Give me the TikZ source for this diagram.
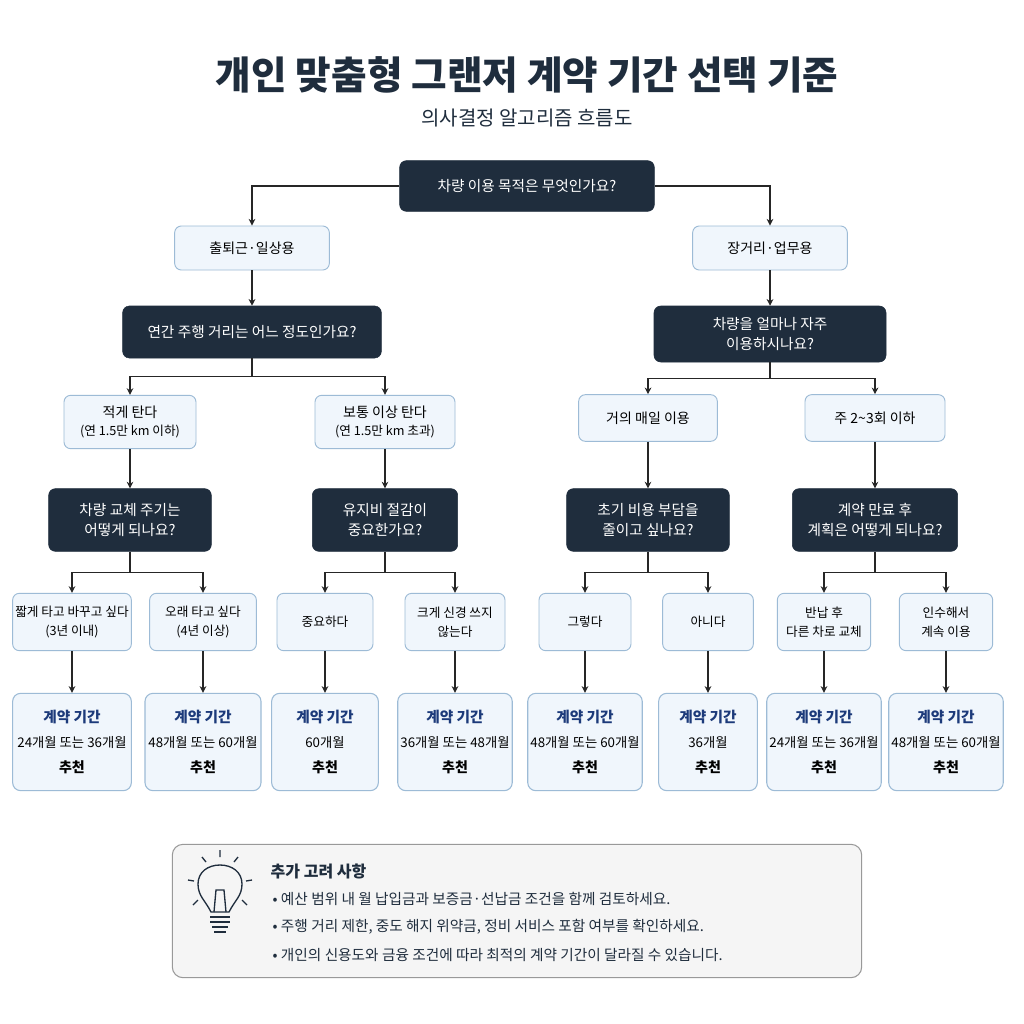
\documentclass[tikz,border=0pt]{standalone}
\usepackage{fontspec}
\setmainfont{Noto Sans CJK KR}
\usetikzlibrary{arrows.meta,calc}
\definecolor{dk}{HTML}{1F2D3D}
\definecolor{lf}{HTML}{F0F6FC}
\definecolor{lb}{HTML}{9DBBD6}
\definecolor{nv}{HTML}{1C3A7A}
\tikzset{
 q/.style={draw=dk,fill=dk,text=white,rounded corners=5pt,align=center,font=\fontsize{11}{15}\selectfont,inner sep=2pt},
 o/.style={draw=lb,fill=lf,rounded corners=5pt,align=center,font=\fontsize{10.5}{14}\selectfont,inner sep=2pt,line width=0.7pt},
 r/.style={draw=lb,fill=lf,rounded corners=6pt,align=center,font=\fontsize{9.5}{19}\selectfont,inner sep=2pt,line width=0.8pt},
 ar/.style={-{Stealth[length=5pt,width=5pt]},line width=0.8pt,draw=black!85},
 ln/.style={line width=0.8pt,draw=black!85}
}
\newcommand{\rt}[1]{{\color{nv}\fontsize{11}{19}\selectfont\bfseries #1}}
\newcommand{\vd}[2]{\draw[ar] (#1.south) -- (#1.south|-#2.north);}
\begin{document}
\begin{tikzpicture}[x=0.75pt,y=-0.75pt]
\fill[white] (0,0) rectangle (1024,1024);
\useasboundingbox (0,0) rectangle (1024,1024);
\node[font=\fontsize{29}{34}\selectfont\bfseries,text=dk] (title) at (527,75) {개인 맞춤형 그랜저 계약 기간 선택 기준};
\node[font=\fontsize{15}{18}\selectfont,text=dk] (sub) at (527,118) {의사결정 알고리즘 흐름도};
% root
\node[q,minimum width=191pt,minimum height=38pt] (root) at (527,186) {차량 이용 목적은 무엇인가요?};
\node[o,minimum width=116pt,minimum height=33pt] (a) at (252,248) {출퇴근·일상용};
\node[o,minimum width=116pt,minimum height=33pt] (b) at (770,248) {장거리·업무용};
\node[q,minimum width=194pt,minimum height=39pt] (qa) at (252,332) {연간 주행 거리는 어느 정도인가요?};
\node[q,minimum width=174pt,minimum height=42pt] (qb) at (770,334) {차량을 얼마나 자주\\이용하시나요?};
\node[o,minimum width=99pt,minimum height=40pt] (a1) at (130,422) {적게 탄다\\{\fontsize{9.5}{13}\selectfont (연 1.5만 km 이하)}};
\node[o,minimum width=105pt,minimum height=40pt] (a2) at (385,422) {보통 이상 탄다\\{\fontsize{9.5}{13}\selectfont (연 1.5만 km 초과)}};
\node[o,minimum width=104pt,minimum height=35pt] (b1) at (648,418) {거의 매일 이용};
\node[o,minimum width=105pt,minimum height=35pt] (b2) at (875,418) {주 2\textasciitilde3회 이하};
\node[q,minimum width=122pt,minimum height=47pt] (qa1) at (130,520) {차량 교체 주기는\\어떻게 되나요?};
\node[q,minimum width=109pt,minimum height=47pt] (qa2) at (385,520) {유지비 절감이\\중요한가요?};
\node[q,minimum width=122pt,minimum height=47pt] (qb1) at (648,520) {초기 비용 부담을\\줄이고 싶나요?};
\node[q,minimum width=124pt,minimum height=47pt] (qb2) at (875,520) {계약 만료 후\\계획은 어떻게 되나요?};
% level 4
\foreach \n/\x/\w/\t in {c1/72/78/{짧게 타고 바꾸고 싶다\\(3년 이내)},c2/203/80/{오래 타고 싶다\\(4년 이상)},c3/325/72/{중요하다},c4/455/75/{크게 신경 쓰지\\않는다},c5/585/69/{그렇다},c6/708/68/{아니다},c7/824/70/{반납 후\\다른 차로 교체},c8/946/70/{인수해서\\계속 이용}}
  \node[o,minimum width=\w pt,minimum height=43pt,font=\fontsize{9.5}{14}\selectfont] (\n) at (\x,622) {\t};
\foreach \n/\x/\w/\t in {d1/72/89/{24개월 또는 36개월},d2/203/87/{48개월 또는 60개월},d3/325/80/{60개월},d4/455/80/{36개월 또는 48개월},d5/585/80/{48개월 또는 60개월},d6/708/74/{36개월},d7/824/80/{24개월 또는 36개월},d8/946/83/{48개월 또는 60개월}}
  \node[r,minimum width=\w pt,minimum height=73pt] (\n) at (\x,742) {\rt{계약 기간}\\{\fontsize{10}{19}\selectfont\t}\\{\fontsize{10.5}{19}\selectfont\bfseries 추천}};
% connectors
\draw[ar] (root.west) -| (a.north);
\draw[ar] (root.east) -| (b.north);
\vd{a}{qa}
\vd{b}{qb}
\foreach \p/\l/\rr in {qa/a1/a2,qb/b1/b2,qa1/c1/c2,qa2/c3/c4,qb1/c5/c6,qb2/c7/c8}{
  \coordinate (m\p) at ($(\p.south)!0.5!(\p.south|-\l.north)$);
  \draw[ln] (\p.south) -- (m\p);
  \draw[ar] (m\p) -| (\l.north);
  \draw[ar] (m\p) -| (\rr.north);
}
\vd{a1}{qa1}
\vd{a2}{qa2}
\vd{b1}{qb1}
\vd{b2}{qb2}
\foreach \i in {1,...,8} {\vd{c\i}{d\i}}
% bottom box
\node[draw=black!40,fill=black!4,rounded corners=8pt,minimum width=517pt,minimum height=100pt,line width=0.8pt] (box) at (517,911) {};
\node[anchor=west,font=\fontsize{12}{14}\selectfont\bfseries,text=dk] (bt) at (266,871) {추가 고려 사항};
\node[anchor=west,font=\fontsize{11}{14}\selectfont,text=dk] (l1) at (268,899) {• 예산 범위 내 월 납입금과 보증금·선납금 조건을 함께 검토하세요.};
\node[anchor=west,font=\fontsize{11}{14}\selectfont,text=dk] (l2) at (268,927) {• 주행 거리 제한, 중도 해지 위약금, 정비 서비스 포함 여부를 확인하세요.};
\node[anchor=west,font=\fontsize{11}{14}\selectfont,text=dk] (l3) at (268,955) {• 개인의 신용도와 금융 조건에 따라 최적의 계약 기간이 달라질 수 있습니다.};
% bulb
\begin{scope}[line width=1pt,draw=dk]
\draw (211,912) .. controls (205,900) and (198,896) .. (198,884) .. controls (198,872) and (208,865) .. (220,865) .. controls (232,865) and (242,872) .. (242,884) .. controls (242,896) and (235,900) .. (229,912) -- cycle;
\draw (214,912) -- (216,890) -- (224,890) -- (226,912);
\draw (210,917) -- (230,917) (210,922) -- (230,922) (212,927) -- (228,927) (214,932) -- (226,932);
\draw (220,850) -- (220,857) (202,857) -- (206,862) (238,857) -- (234,862) (188,880) -- (194,881) (252,880) -- (246,881) (193,905) -- (198,900) (247,905) -- (242,900);
\end{scope}
\end{tikzpicture}
\end{document}
